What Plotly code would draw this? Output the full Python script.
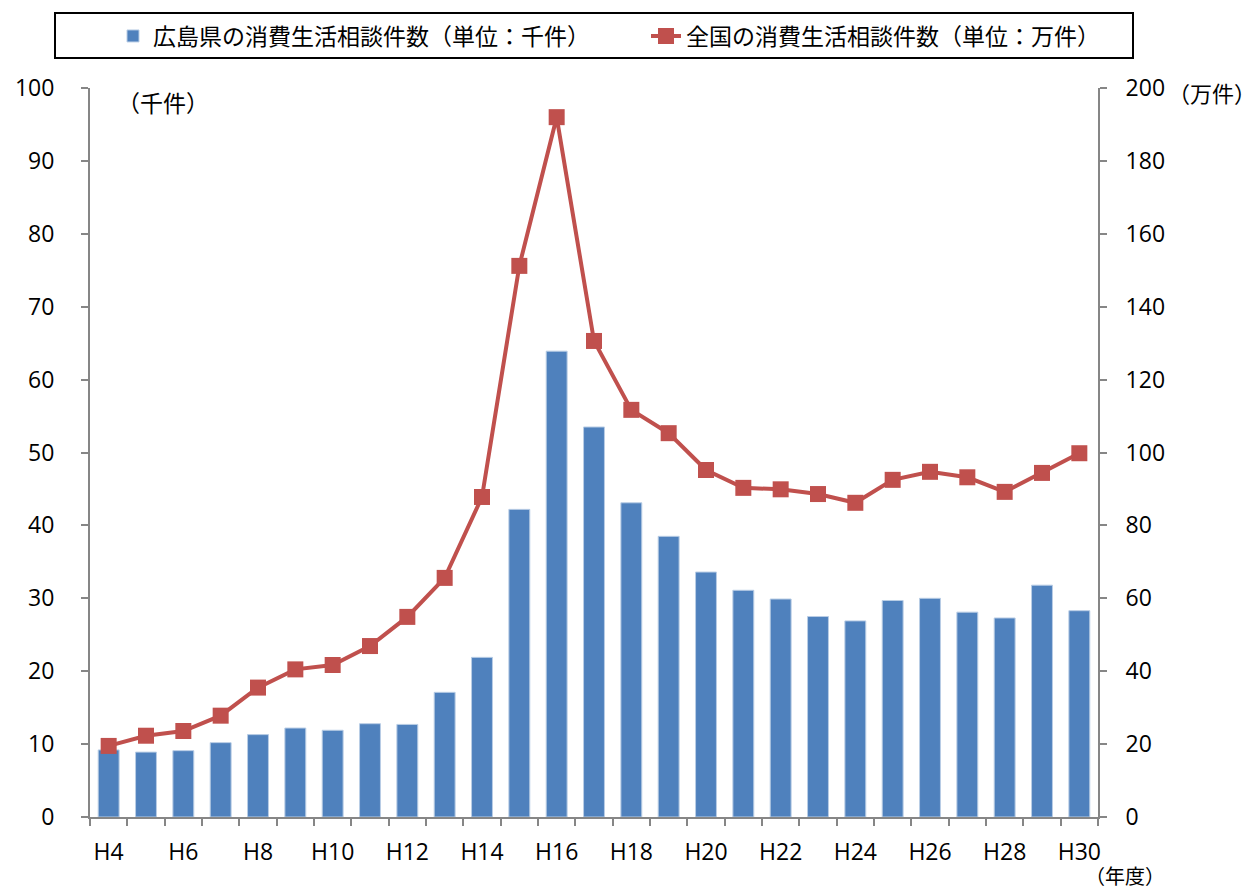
import plotly.graph_objects as go

years = ["H4","H5","H6","H7","H8","H9","H10","H11","H12","H13","H14","H15","H16","H17","H18",
         "H19","H20","H21","H22","H23","H24","H25","H26","H27","H28","H29","H30"]
hiroshima = [9.2, 8.9, 9.1, 10.2, 11.3, 12.2, 11.9, 12.8, 12.7, 17.1, 21.9, 42.2, 63.9, 53.5, 43.1,
             38.5, 33.6, 31.1, 29.9, 27.5, 26.9, 29.7, 30.0, 28.1, 27.3, 31.8, 28.3]
national = [19.5, 22.3, 23.6, 27.8, 35.5, 40.5, 41.7, 46.9, 54.9, 65.6, 87.8, 151.2, 192.0, 130.6, 111.7,
            105.3, 95.2, 90.3, 89.9, 88.6, 86.2, 92.5, 94.7, 93.2, 89.2, 94.4, 99.8]
tick_text = [y if i % 2 == 0 else "" for i, y in enumerate(years)]

FONT = "'Open Sans', 'Noto Sans CJK JP', sans-serif"
JP = "'Noto Sans CJK JP', sans-serif"
AX = "#868686"

fig = go.Figure()
fig.add_trace(go.Bar(x=years, y=hiroshima, name="広島県の消費生活相談件数（単位：千件）",
                     marker=dict(color="#4F81BD", line=dict(color="#B9CDE5", width=1)), yaxis="y",
                     legend="legend"))
fig.add_trace(go.Scatter(x=years, y=national, name="全国の消費生活相談件数（単位：万件）",
                         mode="lines+markers", line=dict(color="#C0504D", width=4),
                         marker=dict(symbol="square", size=16, color="#C0504D"), yaxis="y2",
                         legend="legend2"))

leg_common = dict(orientation="h", xanchor="left", xref="container", yanchor="middle", yref="container",
                  y=1 - 36 / 890, font=dict(family=JP, size=23), bgcolor="rgba(0,0,0,0)")

fig.update_layout(
    width=1255, height=890,
    margin=dict(l=90, r=157, t=88, b=73, autoexpand=False),
    plot_bgcolor="white", paper_bgcolor="white",
    font=dict(family=FONT, size=23, color="black"),
    bargap=0.44,
    showlegend=True,
    legend=dict(x=113 / 1255, **leg_common),
    legend2=dict(x=646 / 1255, **leg_common),
    xaxis=dict(type="category", tickmode="array", tickvals=years, ticktext=tick_text,
               tickson="boundaries", ticks="outside", ticklen=7, tickcolor=AX, tickwidth=2,
               showline=True, linecolor=AX, linewidth=2, showgrid=False, tickangle=0,
               ticklabelstandoff=13, range=[-0.5, 26.5]),
    yaxis=dict(range=[0, 100], dtick=10, ticks="outside", ticklen=7, tickcolor=AX, tickwidth=2,
               showline=True, linecolor=AX, linewidth=2, showgrid=False, zeroline=False,
               ticklabelstandoff=22),
    yaxis2=dict(range=[0, 200], dtick=20, overlaying="y", side="right", ticks="outside", ticklen=7,
                tickcolor=AX, tickwidth=2, showline=True, linecolor=AX, linewidth=2,
                showgrid=False, zeroline=False, ticklabelstandoff=14),
)

fig.add_shape(type="rect", xref="paper", yref="paper", x0=(55 - 90) / 1008, x1=(1133 - 90) / 1008,
              y0=(817 - 58) / 729, y1=(817 - 13) / 729, line=dict(color="black", width=2))

fig.add_annotation(text="（千件）", xref="paper", yref="paper", x=(163 - 90) / 1008, y=(817 - 102) / 729,
                   showarrow=False, font=dict(family=JP, size=23), xanchor="center", yanchor="middle")
fig.add_annotation(text="（万件）", xref="paper", yref="paper", x=(1212 - 90) / 1008, y=(817 - 92) / 729,
                   showarrow=False, font=dict(family=JP, size=22), xanchor="center", yanchor="middle")
fig.add_annotation(text="（年度）", xref="paper", yref="paper", x=(1125 - 90) / 1008, y=(817 - 875) / 729,
                   showarrow=False, font=dict(family=JP, size=20), xanchor="center", yanchor="middle",
                   borderpad=0)

fig.write_html("out.html")
